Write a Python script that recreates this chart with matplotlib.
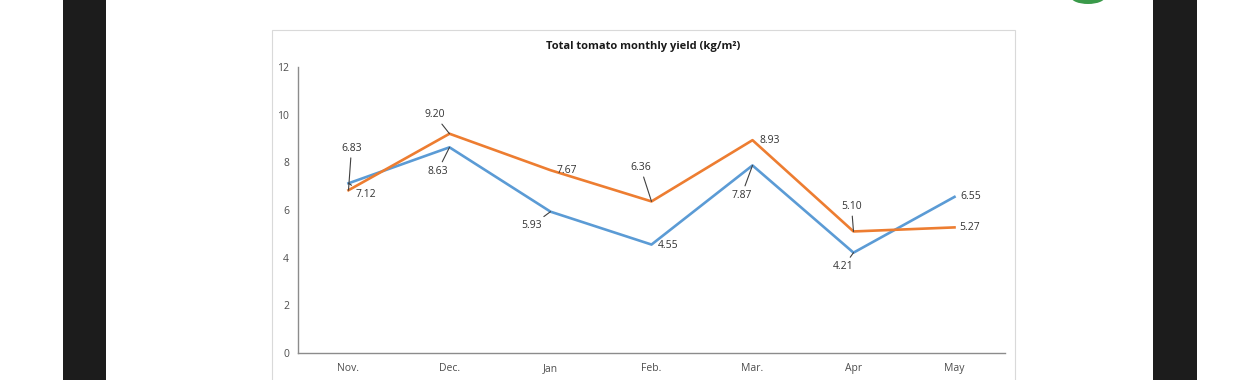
import matplotlib
matplotlib.use("Agg")
import matplotlib.pyplot as plt
from matplotlib.patches import Rectangle, Ellipse

months = ["Nov.", "Dec.", "Jan", "Feb.", "Mar.", "Apr", "May"]
series_blue = [7.12, 8.63, 5.93, 4.55, 7.87, 4.21, 6.55]
series_orange = [6.83, 9.20, 7.67, 6.36, 8.93, 5.10, 5.27]
yticks = [0, 2, 4, 6, 8, 10, 12]
title = "Total tomato monthly yield (kg/m\u00b2)"

# label layout (pixel offsets from point, and whether a leader line is drawn)
blue_off = [(17, -11, True), (-12, -24, True), (-19, -14, True), (17, -1, False),
            (-11, -30, True), (-10, -14, True), (16, 0, False)]
orange_off = [(3, 42, True), (-15, 19, True), (16, 0, False), (-11, 34, True),
              (17, 0, False), (-2, 25, True), (15, 0, False)]

plt.rcParams['font.family'] = ['Open Sans', 'DejaVu Sans']

W, H = 1260, 380
fig = plt.figure(figsize=(W / 100, H / 100), dpi=100)
fig.patch.set_facecolor("white")

def px_rect(x0, y0, x1, y1, **kw):
    fig.patches.append(Rectangle((x0 / W, 1 - y1 / H), (x1 - x0) / W, (y1 - y0) / H,
                                 transform=fig.transFigure, zorder=-5, **kw))

# dark side bars
px_rect(63, 0, 106, 380, facecolor="#1c1c1c", edgecolor="none")
px_rect(1153, 0, 1197, 380, facecolor="#1c1c1c", edgecolor="none")
# chart frame
px_rect(272, 30, 1015, 392, facecolor="white", edgecolor="#d9d9d9", lw=0.8)
# logo fragment
fig.patches.append(Ellipse((1088 / W, 1 - (-3) / H), 34 / W, 14 / H,
                           transform=fig.transFigure, facecolor="#3a9a4a",
                           edgecolor="none", zorder=-5))

ax_left, ax_right, ax_top, ax_bot = 298, 1005, 67, 353
ax = fig.add_axes([ax_left / W, 1 - ax_bot / H, (ax_right - ax_left) / W, (ax_bot - ax_top) / H])
ax.set_zorder(2)
ax.set_facecolor("none")
x = list(range(len(months)))
ax.plot(x, series_blue, color="#5B9BD5", lw=1.9, zorder=3)
ax.plot(x, series_orange, color="#ED7D31", lw=1.9, zorder=3)
ax.set_xlim(-0.5, len(months) - 0.5)
ax.set_ylim(0, 12)
ax.set_yticks(yticks)
ax.set_xticks(x)
ax.set_xticklabels(months)
for s in ["top", "right"]:
    ax.spines[s].set_visible(False)
for s in ["left", "bottom"]:
    ax.spines[s].set_color("#8c8c8c")
    ax.spines[s].set_linewidth(1.0)
ax.tick_params(axis="both", length=0, labelsize=7.5, colors="#4d4d4d")
ax.tick_params(axis="y", pad=6.5)
ax.tick_params(axis="x", pad=7.5)

def label(vals, offs):
    for xi, v, (dx, dy, lead) in zip(x, vals, offs):
        kw = {}
        if lead:
            kw["arrowprops"] = dict(arrowstyle="-", color="#404040", lw=0.8,
                                    shrinkA=1, shrinkB=0)
        ax.annotate(f"{v:.2f}", xy=(xi, v), xytext=(dx, dy), textcoords="offset pixels",
                    ha="center", va="center", fontsize=7.5, color="#333333", zorder=5, **kw)

label(series_blue, blue_off)
label(series_orange, orange_off)

fig.text(643 / W, 1 - 46 / H, title, ha="center", va="center", fontsize=8,
         fontweight="bold", color="#1a1a1a", zorder=3)

fig.savefig("out.png", dpi=100)
